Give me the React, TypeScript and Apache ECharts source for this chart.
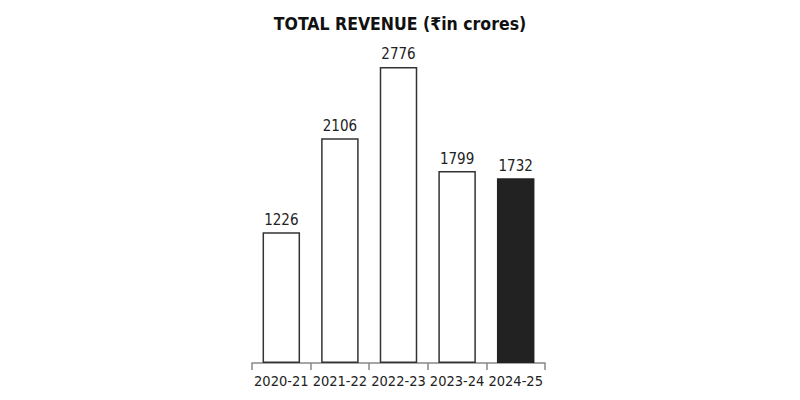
import React, { useEffect, useRef } from 'react';
import * as echarts from 'echarts';

const years = ['2020-21', '2021-22', '2022-23', '2023-24', '2024-25'];
const revenue = [1226, 2106, 2776, 1799, 1732];
const highlightIndex = 4;

const FONT = '"DejaVu Sans Condensed", "DejaVu Sans", sans-serif';

export default function App() {
  const chartRef = useRef<HTMLDivElement>(null);

  useEffect(() => {
    document.body.style.margin = '0';
    if (!chartRef.current) return;
    const myChart = echarts.init(chartRef.current, null, { renderer: 'svg' });

    const option: echarts.EChartsOption = {
      animation: false,
      backgroundColor: '#ffffff',
      title: {
        text: 'TOTAL REVENUE (₹in crores)',
        left: 'center',
        top: 10,
        textStyle: {
          fontFamily: FONT,
          fontSize: 17.5,
          fontWeight: 'bold',
          color: '#111',
        },
      },
      grid: { left: 252, right: 255, top: 43, bottom: 37 },
      xAxis: {
        type: 'category',
        data: years,
        axisLine: { lineStyle: { color: '#888', width: 1.5 } },
        axisTick: { show: true, length: 7, lineStyle: { color: '#888', width: 1.5 } },
        axisLabel: {
          interval: 0,
          hideOverlap: false,
          fontFamily: FONT,
          fontSize: 14.5,
          color: '#222',
          margin: 10,
        },
      },
      yAxis: {
        type: 'value',
        min: 0,
        max: 3000,
        show: false,
        splitLine: { show: false },
      },
      series: [
        {
          type: 'bar',
          barWidth: '64%',
          data: revenue.map((v, i) => ({
            value: v,
            itemStyle: i === highlightIndex
              ? { color: '#222', borderColor: '#222', borderWidth: 1.5 }
              : { color: '#fff', borderColor: '#333', borderWidth: 1.5 },
          })),
          label: {
            show: true,
            position: 'top',
            distance: 5,
            fontFamily: FONT,
            fontSize: 15,
            color: '#222',
          },
        },
      ],
    };

    myChart.setOption(option);

    return () => {
      myChart.dispose();
    };
  }, []);

  return <div ref={chartRef} style={{ width: '800px', height: '400px' }} />;
}
